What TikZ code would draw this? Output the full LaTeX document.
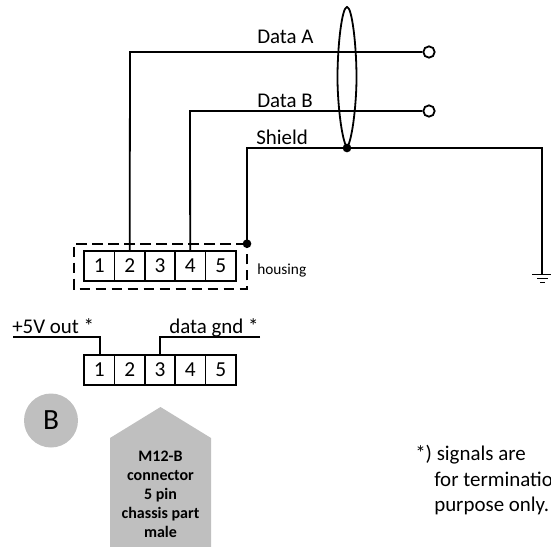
\documentclass[tikz,border=0pt]{standalone}
\usepackage{fontspec}
\setmainfont{Carlito}
\tikzset{
  wire/.style={draw=black,line width=1.35pt},
  pin/.style={draw=black,line width=1.35pt,minimum width=22.8pt,minimum height=22.5pt,inner sep=0pt,font=\fontsize{16}{18}\selectfont},
  lbl/.style={inner sep=0pt,font=\fontsize{15.7}{18}\selectfont},
  term/.style={circle,draw=black,fill=white,line width=1.35pt,minimum size=8.5pt,inner sep=0pt},
  joint/.style={circle,fill=black,minimum size=6.5pt,inner sep=0pt},
  tag/.style={inner sep=0pt,align=center,font=\fontsize{12}{14.25}\selectfont\bfseries}
}
\begin{document}
\begin{tikzpicture}[x=0.75pt,y=-0.75pt]
\useasboundingbox (0,0) rectangle (551,547);
\clip (0,0) rectangle (551,547);
% upper connector
\foreach \n/\x in {1/99.2,2/129.7,3/160,4/190.2,5/220.7}{
  \node[pin] (u\n) at (\x,266) {\n};
  \node[pin] (l\n) at (\x,370) {\n};
}
\coordinate (hTL) at (74,243.7);
\coordinate (hBR) at (247,289);
\draw[line width=1.35pt,dash pattern=on 8pt off 4pt] (247,243.7) -- (hTL) -- (74,289) -- (hBR) -- (247,243.7);
% terminals
\node[term] (ta) at (429,52) {};
\node[term] (tb) at (429,111) {};
\node[joint] (jh) at (247,243.7) {};
\node[joint] (js) at (347,148) {};
\coordinate (gnd) at (542.3,274);
% wires
\draw[wire] (u2.north) -- (130,52) -- (ta.west);
\draw[wire] (u4.north) -- (190,111) -- (tb.west);
\draw[wire] (jh.center) -- (247,148) -- (js.center) -- (542.3,148) -- (gnd);
% shield ellipse
\draw[wire] (347,148) .. controls (341,138) and (337.5,100) .. (337.5,78) .. controls (337.5,45) and (342,7) .. (347,7) .. controls (352,7) and (356.5,45) .. (356.5,78) .. controls (356.5,100) and (353,138) .. (347,148);
% ground
\draw[wire] (532,274.5) -- (551,274.5);
\draw[wire] (537,278.5) -- (548,278.5);
\draw[wire] (540,282.5) -- (545,282.5);
% lower connector wires
\coordinate (p5) at (13,337);
\coordinate (gn) at (260,337);
\draw[wire] (p5) -- (100,337) -- (100,355);
\draw[wire] (gn) -- (160,337) -- (160,355);
% labels
\node[lbl,anchor=base west] (la) at (257,43) {Data A};
\node[lbl,anchor=base west] (lb) at (257,107) {Data B};
\node[lbl,anchor=base west] (ls) at (256,144) {Shield};
\node[inner sep=0pt,anchor=base west,font=\fontsize{11.5}{13}\selectfont] (lh) at (257,274) {housing};
\node[lbl,anchor=base west] (l5) at (12,333) {+5V out *};
\node[lbl,anchor=base west] (lg) at (169,333) {data gnd *};
% badge
\node[circle,fill=black!25,minimum size=40.5pt,inner sep=0pt,font=\fontsize{22}{24}\selectfont] (bd) at (51,420.5) {B};
% pentagon
\fill[black!25] (110,547) -- (110,438) -- (160.5,407) -- (211,438) -- (211,547) -- cycle;
\node[tag] (tg) at (160.5,494.5) {M12-B\\connector\\5 pin\\chassis part\\male};
% note
\node[lbl,anchor=base west] (n1) at (415,460) {*) signals are};
\node[lbl,anchor=base west] (n2) at (434,486) {for termination};
\node[lbl,anchor=base west] (n3) at (434,511) {purpose only.};
\end{tikzpicture}
\end{document}
